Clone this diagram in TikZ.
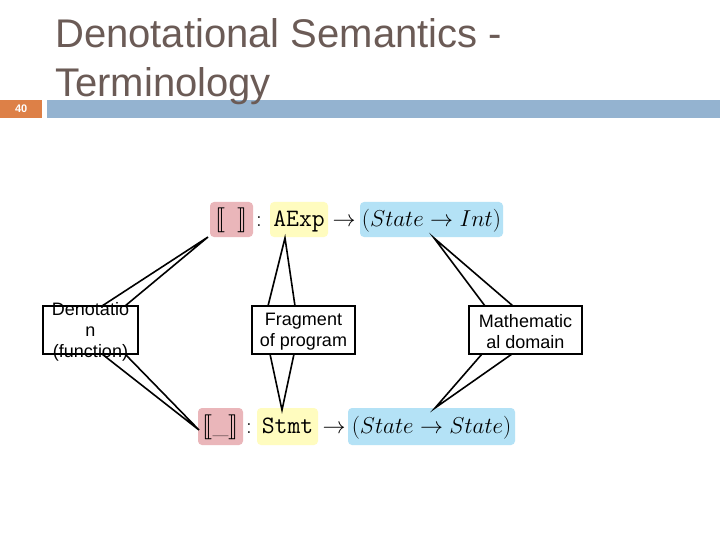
\RequirePackage{fix-cm}
\documentclass[tikz,border=0pt]{standalone}
\usepackage{fontspec}
\IfFileExists{stmaryrd.sty}{\usepackage{stmaryrd}}{\newcommand\llbracket{[\mkern-5.5mu[}\newcommand\rrbracket{]\mkern-5.5mu]}}
\newfontfamily\arialf{Liberation Sans}
\definecolor{titlec}{RGB}{107,91,86}
\definecolor{barblue}{RGB}{148,179,208}
\definecolor{numorange}{RGB}{221,128,71}
\definecolor{redc}{RGB}{234,182,186}
\definecolor{yelc}{RGB}{255,252,191}
\definecolor{bluc}{RGB}{180,226,246}
\tikzset{
  fml/.style={inner sep=0pt, text height=17pt, text depth=3pt, font=\fontsize{23}{27}\selectfont},
  frm/.style={fml, rounded corners=4pt, minimum height=35pt},
  callbox/.style={draw=black, line width=1.6pt, fill=white, inner sep=0pt, minimum height=48pt},
  calltext/.style={inner sep=0pt, align=center, font=\arialf\fontsize{18}{21}\selectfont},
  pointer/.style={draw=black, line width=1.6pt, line join=miter},
  titletext/.style={inner sep=0pt, text=titlec, font=\arialf\fontsize{40}{48}\selectfont}
}
\begin{document}
\begin{tikzpicture}[x=1pt,y=-1pt]
\useasboundingbox[fill=white] (0,0) rectangle (720,540);
% header
\node[fill=barblue, minimum width=673pt, minimum height=18pt, inner sep=0pt, anchor=north west] (bar) at (47,100) {};
\node[fill=numorange, minimum width=42pt, minimum height=18pt, inner sep=0pt, anchor=north west, text=white, font=\arialf\bfseries\fontsize{11}{12}\selectfont] (num) at (0,100) {40};
\node[titletext, anchor=base west] (title1) at (55,48) {Denotational Semantics -};
\node[titletext, anchor=base west] (title2) at (55,97) {Terminology};
% top formula
\node[frm, fill=redc, minimum width=43pt] (r1) at (231.5,219.5) {$\llbracket\;\;\rrbracket$};
\node[fml] (c1) at (259,219.5) {$:$};
\node[frm, fill=yelc, minimum width=58pt] (y1) at (299,219.5) {\fontsize{25}{29}\selectfont\texttt{AExp}};
\node[fml] (a1) at (344,219.5) {$\rightarrow$};
\node[frm, fill=bluc, minimum width=143pt] (b1) at (431.5,219.5) {$(State\rightarrow Int)$};
% bottom formula
\node[frm, fill=redc, minimum width=45pt, minimum height=37pt] (r2) at (220.5,426.5) {$\llbracket\_\rrbracket$};
\node[fml] (c2) at (249,426.5) {$:$};
\node[frm, fill=yelc, minimum width=61pt, minimum height=37pt] (y2) at (287.5,426.5) {\fontsize{25}{29}\selectfont\texttt{Stmt}};
\node[fml] (a2) at (334,426.5) {$\rightarrow$};
\node[frm, fill=bluc, minimum width=167pt, minimum height=37pt] (b2) at (431.5,426.5) {$(State\rightarrow State)$};
% callout geometry
\coordinate (dt1) at (102,306); \coordinate (dt2) at (125,306);
\coordinate (db1) at (102,354); \coordinate (db2) at (125,354);
\coordinate (ft1) at (268,306); \coordinate (ft2) at (295,306);
\coordinate (fb1) at (270,354); \coordinate (fb2) at (294,354);
\coordinate (mt1) at (485,306); \coordinate (mt2) at (513,306);
\coordinate (mb1) at (482,354); \coordinate (mb2) at (512,354);
\coordinate (tipr1) at (208,237);
\coordinate (tipr2) at (199,430);
\coordinate (tipy1) at (285,238);
\coordinate (tipy2) at (282,410);
\coordinate (tipb1) at (434,238);
\coordinate (tipb2) at (435,408);
\path[pointer] (dt1) -- (tipr1) -- (dt2);
\path[pointer] (db1) -- (tipr2) -- (db2);
\path[pointer] (ft1) -- (tipy1) -- (ft2);
\path[pointer] (fb1) -- (tipy2) -- (fb2);
\path[pointer] (mt1) -- (tipb1) -- (mt2);
\path[pointer] (mb1) -- (tipb2) -- (mb2);
\node[callbox, minimum width=95pt] (den) at (90.5,330) {};
\node[callbox, minimum width=103pt] (frag) at (303.5,330) {};
\node[callbox, minimum width=113pt] (math) at (525.5,330) {};
\node[calltext] (dentext) at ([yshift=-2pt]den.center) {Denotatio\\n\\(function)};
\node[calltext] (fragtext) at ([yshift=-2pt]frag.center) {Fragment\\of program};
\node[calltext] (mathtext) at ([yshift=-2pt]math.center) {Mathematic\\al domain};
\end{tikzpicture}
\end{document}
